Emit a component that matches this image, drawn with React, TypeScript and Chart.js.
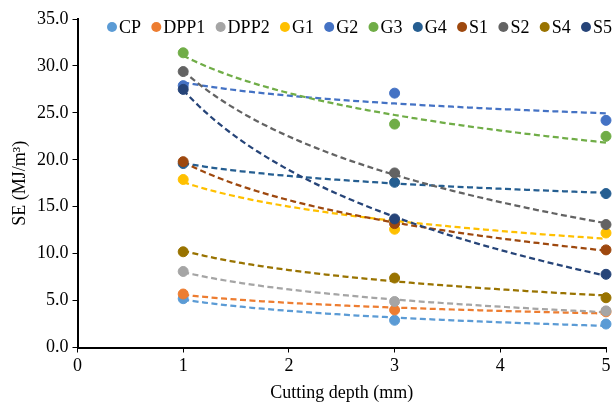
import React, { useEffect, useRef } from "react";
import { Chart, registerables } from "chart.js";

Chart.register(...registerables);

// ---- data ----
const depths = [1, 3, 5];
const seriesNames = ["CP", "DPP1", "DPP2", "G1", "G2", "G3", "G4", "S1", "S2", "S4", "S5"];
const CP = [5.2, 2.9, 2.5];
const DPP1 = [5.7, 4.0, 3.8];
const DPP2 = [8.1, 4.9, 3.9];
const G1 = [17.9, 12.6, 12.2];
const G2 = [27.9, 27.1, 24.2];
const G3 = [31.4, 23.8, 22.5];
const G4 = [19.6, 17.6, 16.4];
const S1 = [19.8, 13.2, 10.4];
const S2 = [29.4, 18.6, 13.1];
const S4 = [10.2, 7.4, 5.3];
const S5 = [27.5, 13.7, 7.8];
const seriesValues = [CP, DPP1, DPP2, G1, G2, G3, G4, S1, S2, S4, S5];
const seriesColors = [
  "#5B9BD5", "#ED7D31", "#A5A5A5", "#FFC000", "#4472C4", "#70AD47",
  "#255E91", "#9E480E", "#636363", "#997300", "#264478",
];
const xMin = 0, xMax = 5, xStep = 1;
const yMin = 0, yMax = 35, yStep = 5;
const xTitle = "Cutting depth (mm)";
const yTitle = "SE (MJ/m³)";

const FONT = '"Liberation Serif", "Times New Roman", serif';
const FONT_SIZE = 18;

// least-squares logarithmic trendline y = a + b ln x
function logFit(xs: number[], ys: number[]) {
  const lx = xs.map((x) => Math.log(x));
  const n = xs.length;
  const mx = lx.reduce((s, v) => s + v, 0) / n;
  const my = ys.reduce((s, v) => s + v, 0) / n;
  let sxy = 0, sxx = 0;
  for (let i = 0; i < n; i++) {
    sxy += (lx[i] - mx) * (ys[i] - my);
    sxx += (lx[i] - mx) * (lx[i] - mx);
  }
  const b = sxy / sxx;
  return { a: my - b * mx, b };
}

const trendPlugin = {
  id: "trendlines",
  beforeDatasetsDraw(chart: any) {
    const { ctx, scales } = chart;
    const xs = scales.x, ys = scales.y;
    ctx.save();
    ctx.lineWidth = 2.25;
    ctx.setLineDash([6, 3.5]);
    ctx.lineCap = "butt";
    seriesValues.forEach((vals, i) => {
      const { a, b } = logFit(depths, vals);
      const x0 = depths[0], x1 = depths[depths.length - 1];
      ctx.strokeStyle = seriesColors[i];
      ctx.beginPath();
      const steps = 80;
      for (let k = 0; k <= steps; k++) {
        const x = x0 + ((x1 - x0) * k) / steps;
        const y = a + b * Math.log(x);
        const px = xs.getPixelForValue(x), py = ys.getPixelForValue(y);
        if (k === 0) ctx.moveTo(px, py); else ctx.lineTo(px, py);
      }
      ctx.stroke();
    });
    ctx.restore();
  },
};

const legendPlugin = {
  id: "customLegend",
  afterDraw(chart: any) {
    const { ctx } = chart;
    ctx.save();
    ctx.font = `${FONT_SIZE}px ${FONT}`;
    ctx.textBaseline = "middle";
    ctx.textAlign = "left";
    const startX = 107, endX = 612, cy = 27, r = 5, textGap = 2;
    const widths = seriesNames.map((n) => ctx.measureText(n).width);
    const used = widths.reduce((s, w) => s + w + 2 * r + textGap, 0);
    const gap = (endX - startX - used) / (seriesNames.length - 1);
    let x = startX;
    seriesNames.forEach((name, i) => {
      ctx.fillStyle = seriesColors[i];
      ctx.beginPath();
      ctx.arc(x + r, cy, r, 0, Math.PI * 2);
      ctx.fill();
      ctx.fillStyle = "#000";
      ctx.fillText(name, x + 2 * r + textGap, cy + 1);
      x += 2 * r + textGap + widths[i] + gap;
    });
    ctx.restore();
  },
};

export default function App() {
  const ref = useRef<HTMLCanvasElement | null>(null);
  useEffect(() => {
    document.body.style.margin = "0";
    if (!ref.current) return;
    const chart = new Chart(ref.current, {
      type: "scatter",
      data: {
        datasets: seriesNames.map((name, i) => ({
          label: name,
          data: depths.map((d, j) => ({ x: d, y: seriesValues[i][j] })),
          backgroundColor: seriesColors[i],
          borderColor: seriesColors[i],
          pointRadius: 5,
          pointBorderWidth: 1,
          pointHoverRadius: 5,
          showLine: false,
          clip: false,
          order: -i,
        })),
      },
      options: {
        animation: false,
        responsive: false,
        devicePixelRatio: 1,
        layout: { padding: { top: 19, right: 8, left: 0, bottom: 0 } },
        plugins: { legend: { display: false }, tooltip: { enabled: false } },
        scales: {
          x: {
            type: "linear",
            min: xMin,
            max: xMax,
            afterFit: (s: any) => { s.height = 59.5; },
            ticks: {
              stepSize: xStep,
              color: "#000",
              padding: 3,
              font: { family: FONT, size: FONT_SIZE },
            },
            grid: { drawOnChartArea: false, drawTicks: true, tickLength: 5, color: "#000", lineWidth: 1 },
            border: { display: true, color: "#000", width: 2 },
            title: {
              display: true,
              text: xTitle,
              color: "#000",
              font: { family: FONT, size: FONT_SIZE },
              padding: { top: 0, bottom: 3 },
            },
          },
          y: {
            type: "linear",
            min: yMin,
            max: yMax,
            afterFit: (s: any) => { s.width = 77.5; },
            ticks: {
              stepSize: yStep,
              color: "#000",
              padding: 4,
              font: { family: FONT, size: FONT_SIZE },
              callback: (v: any) => Number(v).toFixed(1),
            },
            grid: { drawOnChartArea: false, drawTicks: true, tickLength: 5, color: "#000", lineWidth: 1 },
            border: { display: true, color: "#000", width: 2 },
            title: {
              display: true,
              text: yTitle,
              color: "#000",
              font: { family: FONT, size: FONT_SIZE },
              padding: { top: 9, bottom: 0 },
            },
          },
        },
      },
      plugins: [trendPlugin, legendPlugin],
    });
    return () => chart.destroy();
  }, []);
  return (
    <div style={{ width: 614, height: 407 }}>
      <canvas ref={ref} width={614} height={407} style={{ display: "block" }} />
    </div>
  );
}
